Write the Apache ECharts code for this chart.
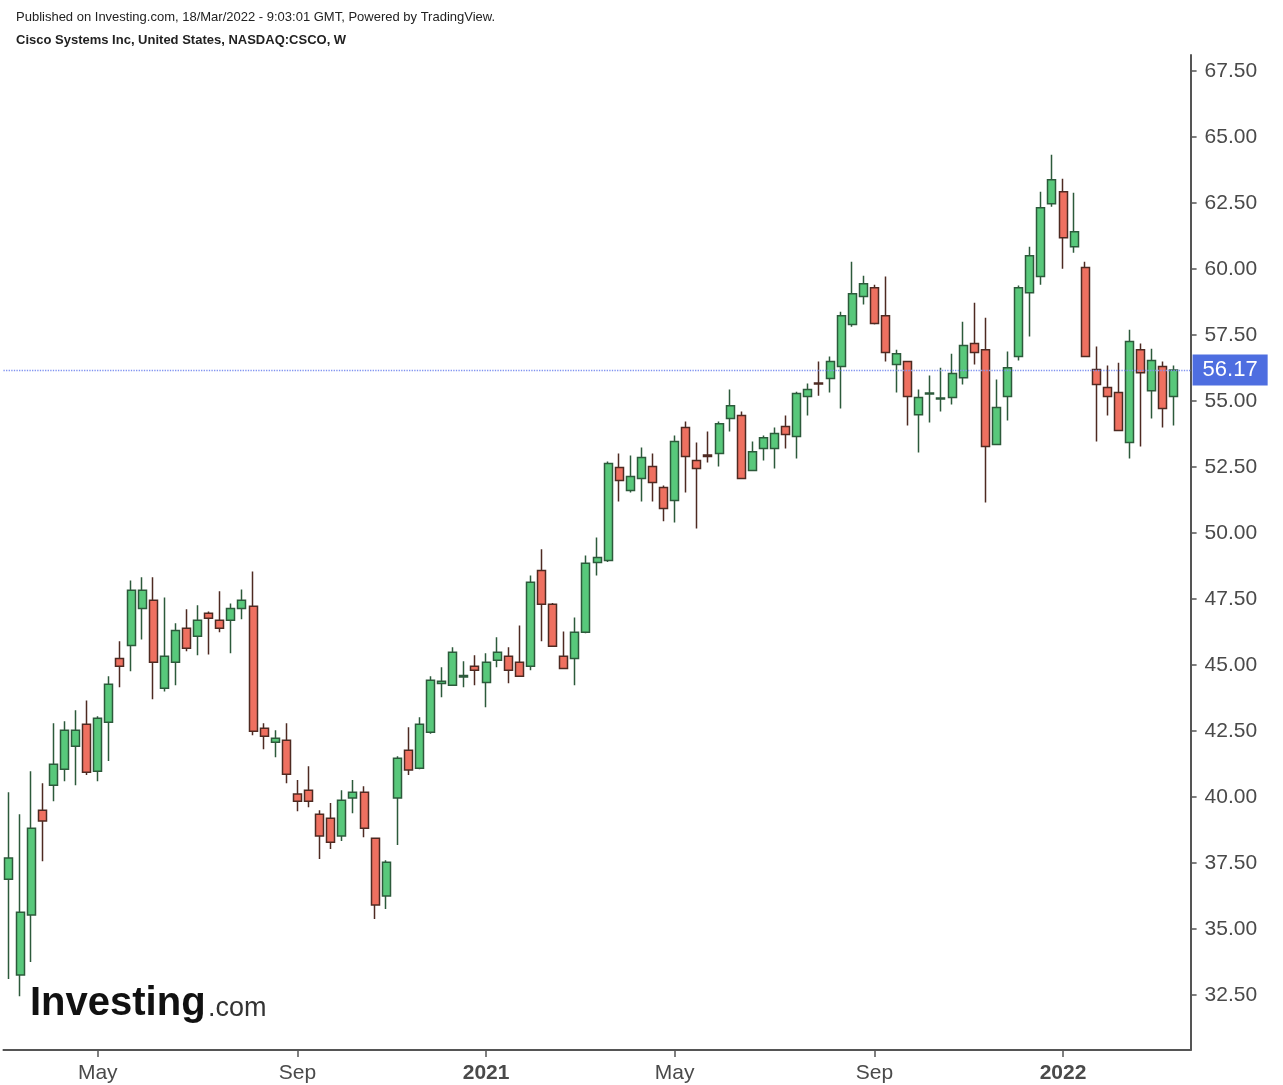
<!DOCTYPE html>
<html><head><meta charset="utf-8">
<script src="https://cdn.jsdelivr.net/npm/echarts@6/dist/echarts.min.js"></script>
<style>html,body{margin:0;padding:0;background:#fff}#c{width:1283px;height:1085px}</style>
</head><body><div id="c"></div>
<script>
// Weekly candles, CSCO, week of 2020-03-09 .. 2022-03-14
const open = [36.89,33.26,35.53,39.50,40.45,41.05,41.92,42.76,40.98,42.83,
45.25,45.74,47.14,47.45,44.12,45.10,46.39,46.09,46.96,46.69,
46.69,47.14,47.22,42.60,42.07,42.15,40.11,40.26,39.35,39.20,
38.52,39.96,40.18,38.44,36.25,39.96,41.77,41.09,42.45,44.30,
44.23,44.55,44.95,44.34,45.18,45.33,45.10,44.95,48.58,47.30,
45.33,45.25,46.24,48.88,48.96,52.48,51.61,52.06,52.52,51.72,
51.23,53.99,52.74,52.95,53.01,54.33,54.45,52.37,53.20,53.20,
54.03,53.65,55.17,55.68,55.85,56.30,57.89,58.95,59.29,58.23,
56.38,56.49,54.48,55.26,55.07,55.13,55.88,57.17,56.94,53.35,
55.17,56.68,59.10,59.71,62.47,62.92,60.84,60.05,56.19,55.51,
55.32,53.43,56.94,55.39,56.30,55.17];
const close = [37.69,35.64,38.82,39.09,41.24,42.53,42.53,40.94,42.98,44.27,
44.95,47.83,47.83,45.10,45.33,46.31,45.63,46.69,46.77,46.39,
47.14,47.45,42.49,42.30,42.23,40.86,39.84,39.84,38.52,38.29,
39.88,40.18,38.82,35.91,37.53,41.47,41.02,42.76,44.42,44.38,
45.48,44.60,44.80,45.10,45.48,44.80,44.57,48.13,47.30,45.71,
44.87,46.24,48.85,49.07,52.63,51.99,52.14,52.86,51.91,50.93,
53.46,52.90,52.44,52.90,54.14,54.82,52.06,53.08,53.61,53.77,
53.73,55.28,55.43,55.64,56.49,58.23,59.06,59.44,57.93,56.83,
56.79,55.17,55.13,55.30,55.11,56.04,57.10,56.83,53.27,54.75,
56.26,59.29,60.50,62.32,63.38,61.18,61.41,56.68,55.62,55.17,
53.88,57.25,56.07,56.53,54.71,56.17];
const low = [33.11,32.46,33.75,37.57,39.84,40.60,40.45,40.83,40.60,41.36,
44.16,44.76,45.97,43.70,44.00,44.23,45.52,45.37,45.40,46.24,
45.44,46.73,42.34,41.81,41.51,40.52,39.46,39.61,37.65,38.03,
38.33,39.39,38.48,35.38,35.76,38.18,40.83,41.05,42.40,43.78,
44.20,44.16,44.23,43.40,44.91,44.31,44.55,44.80,45.90,45.68,
44.85,44.23,46.20,48.39,48.90,51.19,51.53,51.19,51.19,50.44,
50.40,51.53,50.17,52.67,52.52,53.84,52.03,52.35,52.74,52.44,
53.20,52.82,54.45,55.20,55.32,54.71,57.81,58.65,57.89,56.49,
55.32,54.07,53.05,54.18,54.60,54.86,55.62,56.38,51.15,53.35,
54.26,56.53,57.44,59.40,62.35,60.01,60.61,56.65,53.46,54.45,
53.85,52.82,53.27,54.33,53.99,54.07];
const high = [40.18,39.35,40.98,40.52,42.79,42.87,43.29,43.66,43.06,44.57,
45.90,48.20,48.32,48.32,47.56,46.58,47.11,47.26,47.03,47.79,
47.33,47.86,48.54,42.79,42.53,42.79,40.64,41.17,39.50,39.77,
40.26,40.64,40.41,38.44,37.61,41.54,42.64,43.02,44.57,44.91,
45.67,45.14,45.37,45.44,46.05,45.67,46.50,48.39,49.38,47.35,
46.27,46.80,49.15,49.83,52.71,53.01,52.93,53.24,53.01,51.80,
53.69,54.22,53.43,53.84,54.22,55.43,54.60,53.46,53.69,53.99,
54.45,55.35,55.66,56.49,56.68,58.38,60.27,59.74,59.40,59.71,
56.94,56.49,55.43,55.96,56.26,56.79,58.00,58.72,58.15,55.81,
56.87,59.37,60.84,62.92,64.32,63.41,62.88,60.27,57.06,56.34,
56.45,57.70,57.17,56.98,56.49,56.34];

const lastPrice = 56.17;
const yTicks = [32.5,35,37.5,40,42.5,45,47.5,50,52.5,55,57.5,60,62.5,65,67.5];
const xTickIndex = [8, 26, 43, 60, 78, 95];
const xTickLabels = ['May', 'Sep', '2021', 'May', 'Sep', '2022'];
const boldLabels = ['2021', '2022'];

// weekly category dates (plus one empty slot of right padding)
const weeks = [];
const t0 = Date.UTC(2020, 2, 9);
for (let i = 0; i < open.length; i++) {
  const d = new Date(t0 + i * 7 * 86400000);
  weeks.push(d.toISOString().slice(0, 10));
}
weeks.push('');

const candles = open.map((o, i) => [o, close[i], low[i], high[i]]);
candles.push('-');

const labelOf = {};
xTickIndex.forEach((k, j) => { labelOf[k] = xTickLabels[j]; });

const chart = echarts.init(document.getElementById('c'), null, { renderer: 'canvas' });
const FONT = 'Liberation Sans, Arial, Helvetica, sans-serif';

chart.setOption({
  animation: false,
  backgroundColor: '#ffffff',
  title: [
    { text: 'Published on Investing.com, 18/Mar/2022 - 9:03:01 GMT, Powered by TradingView.',
      left: 11, top: 6,
      textStyle: { fontFamily: FONT, fontSize: 13, fontWeight: 'normal', color: '#222' } },
    { text: 'Cisco Systems Inc, United States, NASDAQ:CSCO, W',
      left: 11, top: 29,
      textStyle: { fontFamily: FONT, fontSize: 13, fontWeight: 'bold', color: '#222' } }
  ],
  grid: { left: 3.45, right: 92.4, top: 55, bottom: 35, containLabel: false },
  xAxis: {
    type: 'category',
    data: weeks,
    boundaryGap: true,
    axisLine: { show: true, lineStyle: { color: '#555', width: 2 } },
    axisTick: {
      show: true, alignWithLabel: true, length: 7,
      interval: (idx) => labelOf[idx] !== undefined,
      lineStyle: { color: '#555', width: 1.5 }
    },
    axisLabel: {
      show: true, margin: 13,
      interval: (idx) => labelOf[idx] !== undefined,
      formatter: (v, idx) => {
        const s = labelOf[idx] || '';
        return boldLabels.indexOf(s) >= 0 ? '{b|' + s + '}' : s;
      },
      fontFamily: FONT, fontSize: 21, color: '#4a4a4a',
      rich: { b: { fontFamily: FONT, fontSize: 21, fontWeight: 'bold', color: '#4a4a4a' } }
    },
    splitLine: { show: false }
  },
  yAxis: {
    type: 'value',
    position: 'right',
    min: 30.42, max: 68.10,
    axisLine: { show: true, lineStyle: { color: '#555', width: 2 } },
    axisTick: { show: true, length: 6, customValues: yTicks, lineStyle: { color: '#555', width: 1.5 } },
    axisLabel: {
      show: true, margin: 14, customValues: yTicks,
      padding: [5, 0, 0, 0],
      formatter: (v) => v.toFixed(2),
      fontFamily: FONT, fontSize: 21, color: '#4a4a4a'
    },
    splitLine: { show: false }
  },
  series: [{
    type: 'candlestick',
    data: candles,
    barWidth: 8.5,
    itemStyle: {
      color: '#58c87b', color0: '#ef7060',
      borderColor: '#2c5a3b', borderColor0: '#4e2a22',
      borderWidth: 1.5
    },
    markLine: {
      silent: true,
      symbol: ['none', 'none'],
      lineStyle: { type: 'dotted', color: '#7f92f0', width: 1.3 },
      label: {
        show: true, position: 'end', distance: 2,
        formatter: lastPrice.toFixed(2),
        backgroundColor: '#4e6ee0', color: '#ffffff',
        fontFamily: FONT, fontSize: 22, padding: [6, 10, 3, 10]
      },
      data: [{ yAxis: lastPrice }]
    }
  }],
  graphic: [
    { type: 'text', left: 30, top: 984, z: 10,
      style: { text: 'Investing', font: 'bold 40px "Liberation Sans Narrow", "Liberation Sans", Arial, sans-serif', fill: '#111' } },
    { type: 'text', left: 208, top: 995, z: 10,
      style: { text: '.com', font: '27px "Liberation Sans", Arial, sans-serif', fill: '#333' } }
  ]
});
</script>
</body></html>
